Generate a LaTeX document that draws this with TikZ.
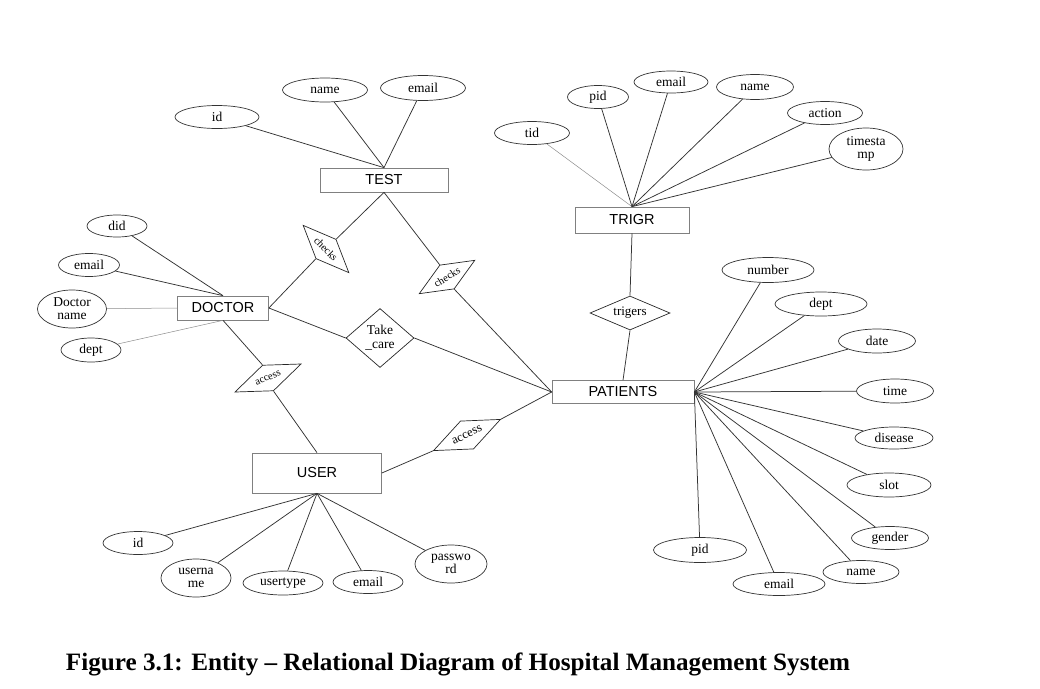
\documentclass[tikz,border=0pt]{standalone}
\usepackage{graphicx}
\usepackage{fontspec}
\setmainfont{Liberation Serif}
\newfontfamily\entfont{Liberation Sans}
\usepackage{tikz}
\usetikzlibrary{shapes.geometric}

\begin{document}
\begin{tikzpicture}[x=1pt,y=-1pt,
        attr/.style={draw=black!80, ellipse, inner sep=0pt, line width=0.7pt, align=center,
                font=\fontsize{13.5}{13}\selectfont},
        entity/.style={draw=black!50, rectangle, inner sep=0pt, line width=0.7pt,
                font=\entfont\fontsize{14.5}{14}\selectfont},
        rel/.style={draw=black!85, diamond, inner sep=0pt, line width=0.7pt, align=center},
        conn/.style={draw=black!80, line width=0.75pt},
        faint/.style={draw=black!45, line width=0.5pt}]
        \useasboundingbox (0,0) rectangle (1040,688);

        % entities
        \node[entity, minimum width=128pt, minimum height=24pt] (test) at (384,180) {TEST};
        \node[entity, minimum width=114pt, minimum height=26pt] (trigr) at (632,220) {TRIGR};
        \node[entity, minimum width=91pt, minimum height=24pt] (doctor) at (223,308) {DOCTOR};
        \node[entity, minimum width=129pt, minimum height=40pt] (user) at (317,473) {USER};
        \node[entity, minimum width=142pt, minimum height=23pt] (patients) at (623,392) {PATIENTS};

        % relations
        \node[rel, rotate=-46, aspect=2.36, minimum width=66pt, minimum height=28pt,
                font=\fontsize{10.5}{10.5}\selectfont] (checks-a) at (326,249) {checks};
        \node[rel, rotate=31, aspect=2.33, minimum width=65pt, minimum height=28pt,
                font=\fontsize{10.5}{10.5}\selectfont] (checks-b) at (447,277) {checks};
        \node[rel, aspect=1.15, minimum width=68pt, minimum height=59pt,
                font=\fontsize{13.5}{14}\selectfont] (take) at (380,338) {Take\\\_care};
        \node[rel, rotate=23, aspect=2.56, minimum width=72pt, minimum height=28pt,
                font=\fontsize{10.5}{10.5}\selectfont] (access-a) at (268,378) {access};
        \node[rel, rotate=25, aspect=2.39, minimum width=74pt, minimum height=31pt,
                font=\fontsize{12.5}{12.5}\selectfont] (access-b) at (467,435) {access};
        \node[rel, aspect=2.35, minimum width=80pt, minimum height=34pt,
                font=\fontsize{13}{13}\selectfont] (trigers) at (630,313) {trigers};

        % TEST attributes
        \node[attr, minimum width=84pt, minimum height=23pt] (test-id) at (217,117) {id};
        \node[attr, minimum width=85pt, minimum height=24pt] (test-name) at (325,90) {name};
        \node[attr, minimum width=85pt, minimum height=25pt] (test-email) at (423,88) {email};
        \draw[conn] (test-id)--(test.north);
        \draw[conn] (test-name)--(test.north);
        \draw[conn] (test-email)--(test.north);

        % TRIGR attributes
        \node[attr, minimum width=75pt, minimum height=23pt] (trigr-tid) at (532,133) {tid};
        \node[attr, minimum width=61pt, minimum height=23pt] (trigr-pid) at (598,97) {pid};
        \node[attr, minimum width=74pt, minimum height=22pt] (trigr-email) at (671,82) {email};
        \node[attr, minimum width=77pt, minimum height=25pt] (trigr-name) at (755,87) {name};
        \node[attr, minimum width=75pt, minimum height=23pt] (trigr-action) at (825,113) {action};
        \node[attr, minimum width=74pt, minimum height=42pt] (trigr-time) at (866,149) {timesta\\mp};
        \draw[faint] (trigr-tid)--(trigr.north);
        \draw[conn] (trigr-pid)--(trigr.north);
        \draw[conn] (trigr-email)--(trigr.north);
        \draw[conn] (trigr-name)--(trigr.north);
        \draw[conn] (trigr-action)--(trigr.north);
        \draw[conn] (trigr-time)--(trigr.north);

        % DOCTOR attributes
        \node[attr, minimum width=60pt, minimum height=22pt] (doc-did) at (117,226) {did};
        \node[attr, minimum width=61pt, minimum height=23pt] (doc-email) at (89,265) {email};
        \node[attr, minimum width=69pt, minimum height=38pt] (doc-name) at (72,309) {Doctor\\name};
        \node[attr, minimum width=60pt, minimum height=24pt] (doc-dept) at (91,350) {dept};
        \draw[conn] (doc-did)--(doctor.north);
        \draw[conn] (doc-email)--(doctor.north);
        \draw[faint] (doc-name)--(doctor.west);
        \draw[faint] (doc-dept)--(doctor.south);

        % USER attributes
        \node[attr, minimum width=70pt, minimum height=23pt] (user-id) at (138,543) {id};
        \node[attr, minimum width=70pt, minimum height=38pt] (user-uname) at (196,578) {userna\\me};
        \node[attr, minimum width=80pt, minimum height=24pt] (user-type) at (283,583) {usertype};
        \node[attr, minimum width=70pt, minimum height=23pt] (user-email) at (368,582) {email};
        \node[attr, minimum width=72pt, minimum height=38pt] (user-pass) at (451,564) {passwo\\rd};
        \draw[conn] (user-id)--(user.south);
        \draw[conn] (user-uname)--(user.south);
        \draw[conn] (user-type)--(user.south);
        \draw[conn] (user-email)--(user.south);
        \draw[conn] (user-pass)--(user.south);

        % PATIENTS attributes
        \node[attr, minimum width=92pt, minimum height=25pt] (pat-number) at (768,270) {number};
        \node[attr, minimum width=92pt, minimum height=24pt] (pat-dept) at (821,304) {dept};
        \node[attr, minimum width=77pt, minimum height=24pt] (pat-date) at (877,341) {date};
        \node[attr, minimum width=77pt, minimum height=24pt] (pat-time) at (895,391) {time};
        \node[attr, minimum width=78pt, minimum height=22pt] (pat-disease) at (894,438) {disease};
        \node[attr, minimum width=84pt, minimum height=24pt] (pat-slot) at (889,485) {slot};
        \node[attr, minimum width=77pt, minimum height=23pt] (pat-gender) at (890,538) {gender};
        \node[attr, minimum width=76pt, minimum height=23pt] (pat-name) at (861,572) {name};
        \node[attr, minimum width=92pt, minimum height=23pt] (pat-email) at (779,584) {email};
        \node[attr, minimum width=93pt, minimum height=25pt] (pat-pid) at (700,550) {pid};
        \draw[conn] (pat-number)--(patients.east);
        \draw[conn] (pat-dept)--(patients.east);
        \draw[conn] (pat-date)--(patients.east);
        \draw[conn] (pat-time)--(patients.east);
        \draw[conn] (pat-disease)--(patients.east);
        \draw[conn] (pat-slot)--(patients.east);
        \draw[conn] (pat-gender)--(patients.east);
        \draw[conn] (pat-name)--(patients.east);
        \draw[conn] (pat-email)--(patients.east);
        \draw[conn] (pat-pid)--(patients.east);

        % relationships
        \draw[conn] (doctor.east)--(checks-a.south);
        \draw[conn] (checks-a.north)--(test.south);
        \draw[conn] (test.south)--(checks-b.north);
        \draw[conn] (checks-b.south)--(patients.west);
        \draw[conn] (doctor.east)--(take.west);
        \draw[conn] (take.east)--(patients.west);
        \draw[conn] (doctor.south)--(access-a.north);
        \draw[conn] (access-a.south)--(user.north);
        \draw[conn] (user.east)--(access-b.west);
        \draw[conn] (access-b.east)--(patients.west);
        \draw[conn] (trigr.south)--(trigers.north);
        \draw[conn] (trigers.south)--(patients.north);

        % caption
        \node (caption) at (458,664) {\resizebox{784pt}{\height}{\fontsize{25}{26}\selectfont\bfseries
                Figure 3.1: Entity -- Relational Diagram of Hospital Management System}};
\end{tikzpicture}
\end{document}
